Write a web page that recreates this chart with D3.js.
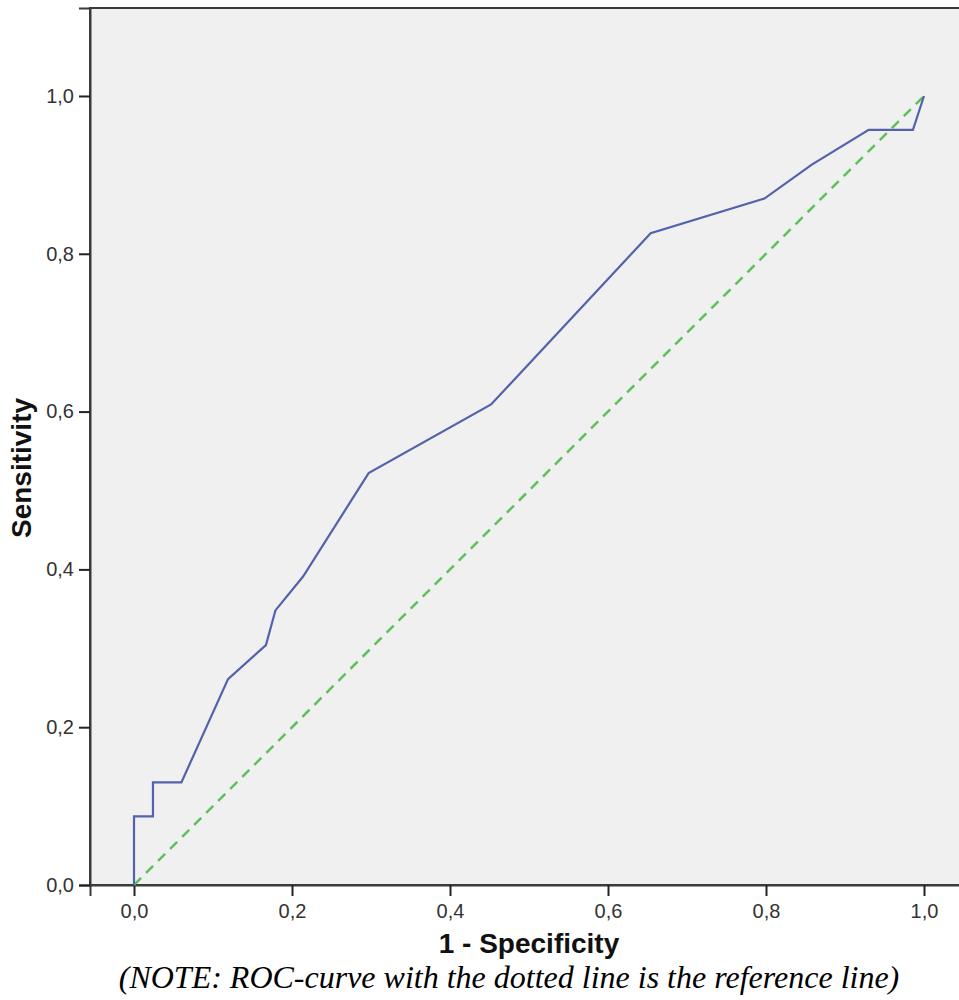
<!DOCTYPE html>
<html><head><meta charset="utf-8">
<script src="https://cdn.jsdelivr.net/npm/d3@7"></script>
<style>body{margin:0;background:#fff}svg{display:block}</style>
</head><body>
<script>
const fpr = [0, 0, 0.024, 0.024, 0.060, 0.119, 0.167, 0.179, 0.214, 0.297, 0.452, 0.654, 0.798, 0.858, 0.930, 0.986, 1];
const tpr = [0, 0.087, 0.087, 0.130, 0.130, 0.261, 0.304, 0.348, 0.391, 0.522, 0.609, 0.826, 0.870, 0.913, 0.957, 0.957, 1];
const refX = [0, 1];
const refY = [0, 1];
const ticks = [0, 0.2, 0.4, 0.6, 0.8, 1.0];
const xTitle = "1 - Specificity";
const yTitle = "Sensitivity";
const note = "(NOTE: ROC-curve with the dotted line is the reference line)";

(function () {
const W = 959, H = 1000;
const svg = d3.select("body").append("svg").attr("width", W).attr("height", H);
const pL = 90, pR = 968, pT = 8, pB = 885;
const x = d3.scaleLinear().domain([-0.0557, 1.0557]).range([pL, pR]);
const y = d3.scaleLinear().domain([0, 1.1115]).range([pB, pT]);
const fmt = d => d3.format(".1f")(d).replace(".", ",");

svg.append("rect").attr("x", pL).attr("y", pT).attr("width", pR - pL).attr("height", pB - pT)
  .attr("fill", "#f0f0f0").attr("stroke", "#3a3a3a").attr("stroke-width", 2);

const xa = svg.append("g").attr("transform", `translate(0,${pB})`)
  .call(d3.axisBottom(x).tickValues(ticks).tickFormat(fmt).tickSize(11).tickPadding(8));
const ya = svg.append("g").attr("transform", `translate(${pL},0)`)
  .call(d3.axisLeft(y).tickValues(ticks).tickFormat(fmt).tickSize(11).tickPadding(5));
[xa, ya].forEach(g => {
  g.select(".domain").attr("stroke", "#3a3a3a").attr("stroke-width", 2);
  g.selectAll(".tick line").attr("stroke", "#222").attr("stroke-width", 2);
  g.selectAll(".tick text").attr("fill", "#333").style("font-family", "Arial, 'Liberation Sans', sans-serif").style("font-size", "20px");
});

const line = d3.line().x(d => x(d[0])).y(d => y(d[1]));
svg.append("path").datum(refX.map((v, i) => [v, refY[i]])).attr("d", line)
  .attr("fill", "none").attr("stroke", "#5cc05c").attr("stroke-width", 2.5).attr("stroke-dasharray", "10,7");
svg.append("path").datum(fpr.map((v, i) => [v, tpr[i]])).attr("d", line)
  .attr("fill", "none").attr("stroke", "#5262ab").attr("stroke-width", 2.2);

svg.append("text").attr("x", x(0.5)).attr("y", 953).attr("text-anchor", "middle")
  .style("font-family", "Arial, 'Liberation Sans', sans-serif").style("font-weight", "bold").style("font-size", "28px").attr("fill", "#111")
  .text(xTitle);
svg.append("text").attr("transform", `translate(31,468) rotate(-90)`).attr("text-anchor", "middle")
  .style("font-family", "Arial, 'Liberation Sans', sans-serif").style("font-weight", "bold").style("font-size", "28px").attr("fill", "#111")
  .text(yTitle);
svg.append("text").attr("x", 509).attr("y", 988).attr("text-anchor", "middle")
  .style("font-family", "'Times New Roman', 'Liberation Serif', serif").style("font-style", "italic").style("font-size", "32px").attr("fill", "#000")
  .text(note);
})();
</script>
</body></html>
